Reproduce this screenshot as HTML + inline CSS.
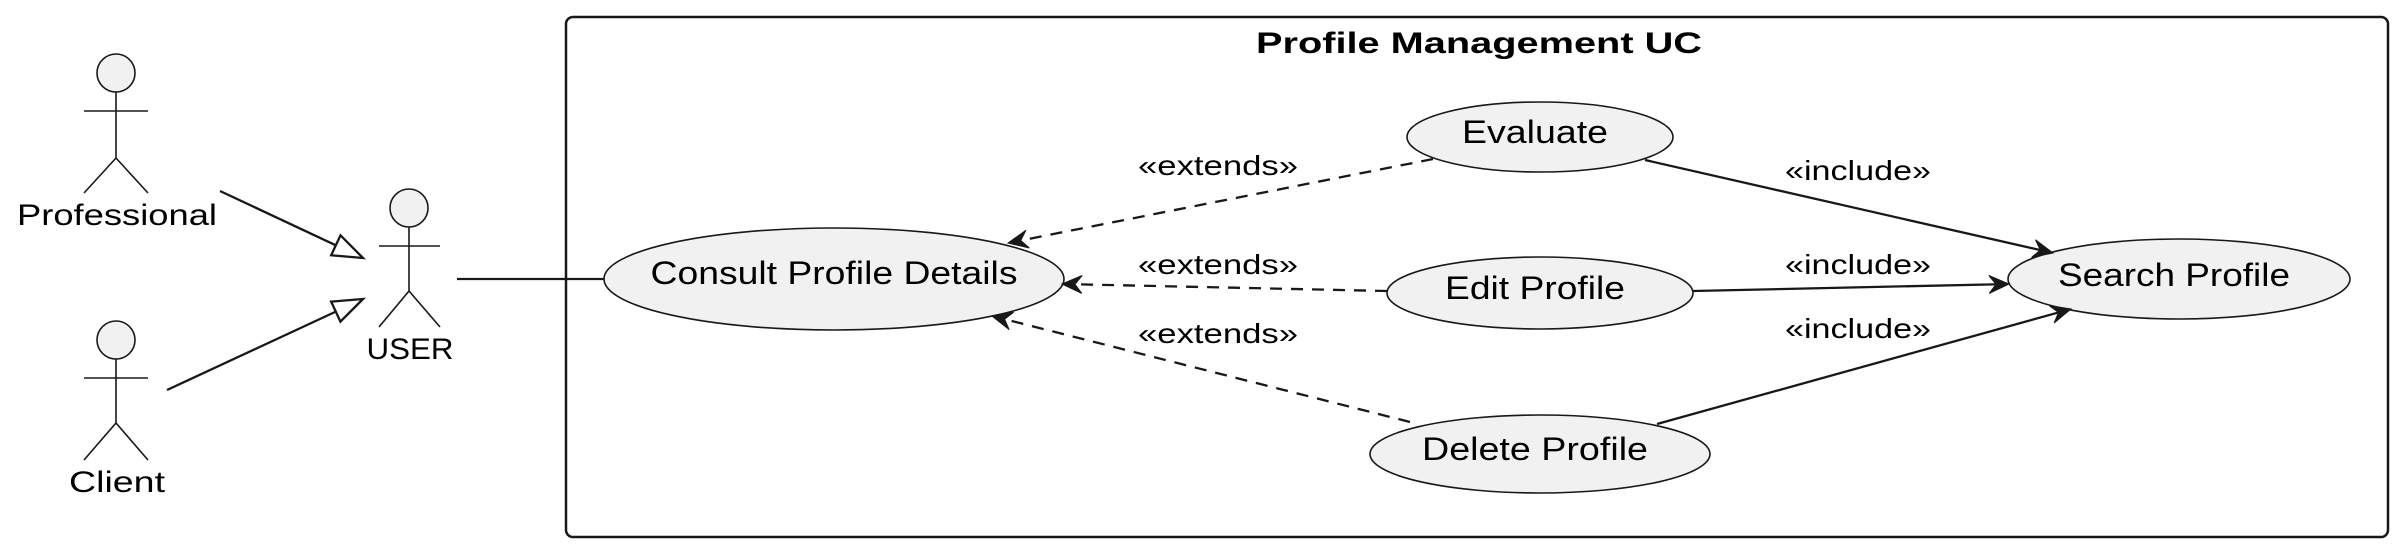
<!DOCTYPE html>
<html><head><meta charset="utf-8"><style>
html,body{margin:0;padding:0;background:#fff;}
svg{display:block;}
text{font-family:"Liberation Sans",sans-serif;fill:#000;}
</style></head><body>
<svg id="s" width="2400" height="550" viewBox="0 0 2400 550" xmlns="http://www.w3.org/2000/svg">
<rect x="566" y="17" width="1822" height="520" rx="7" fill="none" stroke="#181818" stroke-width="2.5"/>
<text x="1479" y="53" font-size="30" font-weight="bold" text-anchor="middle" textLength="446" lengthAdjust="spacingAndGlyphs">Profile Management UC</text>

<g fill="#f1f1f1" stroke="#181818" stroke-width="1.6">
<circle cx="116" cy="73" r="19"/><circle cx="409" cy="208" r="19"/><circle cx="116" cy="340" r="19"/>
</g>
<g stroke="#181818" stroke-width="1.6" fill="none">
<path d="M116 92V158M84 111H148M84 193L116 158L148 193"/>
<path d="M409 227V291M379 246H440M379 327L409 291L440 327"/>
<path d="M116 359V423M84 378H148M84 460L116 423L148 460"/>
</g>
<text x="117" y="225" font-size="30" text-anchor="middle" textLength="200" lengthAdjust="spacingAndGlyphs">Professional</text>
<text x="410" y="359" font-size="30" text-anchor="middle" textLength="87" lengthAdjust="spacingAndGlyphs">USER</text>
<text x="117" y="492" font-size="30" text-anchor="middle" textLength="96" lengthAdjust="spacingAndGlyphs">Client</text>

<g fill="#f1f1f1" stroke="#181818" stroke-width="1.6">
<ellipse cx="834" cy="279" rx="230" ry="51"/>
<ellipse cx="1540" cy="137" rx="133" ry="35"/>
<ellipse cx="1540" cy="293" rx="153" ry="36"/>
<ellipse cx="1540" cy="454" rx="170" ry="39"/>
<ellipse cx="2179" cy="279" rx="171" ry="40"/>
</g>
<g font-size="32" text-anchor="middle">
<text x="834" y="284" textLength="367" lengthAdjust="spacingAndGlyphs">Consult Profile Details</text>
<text x="1535" y="143" textLength="146" lengthAdjust="spacingAndGlyphs">Evaluate</text>
<text x="1535" y="299" textLength="180" lengthAdjust="spacingAndGlyphs">Edit Profile</text>
<text x="1535" y="460" textLength="226" lengthAdjust="spacingAndGlyphs">Delete Profile</text>
<text x="2174" y="286" textLength="232" lengthAdjust="spacingAndGlyphs">Search Profile</text>
</g>
<g font-size="28" text-anchor="middle">
<text x="1218" y="175" textLength="160" lengthAdjust="spacingAndGlyphs">«extends»</text>
<text x="1218" y="274" textLength="160" lengthAdjust="spacingAndGlyphs">«extends»</text>
<text x="1218" y="343" textLength="160" lengthAdjust="spacingAndGlyphs">«extends»</text>
<text x="1858" y="180" textLength="146" lengthAdjust="spacingAndGlyphs">«include»</text>
<text x="1858" y="274" textLength="146" lengthAdjust="spacingAndGlyphs">«include»</text>
<text x="1858" y="338" textLength="146" lengthAdjust="spacingAndGlyphs">«include»</text>
</g>
<line x1="457" y1="279" x2="604" y2="279" stroke="#181818" stroke-width="2.3"/>
<g id="arr"></g>
</svg>
<script>
var g=document.getElementById('arr'),NS='http://www.w3.org/2000/svg';
function el(t,a){var e=document.createElementNS(NS,t);for(var k in a)e.setAttribute(k,a[k]);g.appendChild(e);}
function arrow(x1,y1,x2,y2,dash,hollow){
 var dx=x2-x1,dy=y2-y1,L=Math.hypot(dx,dy),ux=dx/L,uy=dy/L,px=-uy,py=ux;
 if(hollow){
  var bl=30,hw=11,bx=x2-ux*bl,by=y2-uy*bl;
  el('line',{x1:x1,y1:y1,x2:bx,y2:by,stroke:'#181818','stroke-width':2.3});
  el('polygon',{points:[x2,y2,bx+px*hw,by+py*hw,bx-px*hw,by-py*hw].join(' '),fill:'#fff',stroke:'#181818','stroke-width':2.3});
 } else {
  var a={x1:x1,y1:y1,x2:x2-ux*4,y2:y2-uy*4,stroke:'#181818','stroke-width':2.3};
  if(dash)a['stroke-dasharray']='12,9';
  el('line',a);
  var bl=20,hw=9,bx=x2-ux*bl,by=y2-uy*bl,nx=x2-ux*13,ny=y2-uy*13;
  el('polygon',{points:[x2,y2,bx+px*hw,by+py*hw,nx,ny,bx-px*hw,by-py*hw].join(' '),fill:'#181818',stroke:'#181818','stroke-width':1});
 }
}
arrow(220,191,363,258,false,true);
arrow(167,390,363,299,false,true);
arrow(1433,159,1008,243,true);
arrow(1387,291,1062,284,true);
arrow(1410,422,992,316,true);
arrow(1645,160,2053,253,false);
arrow(1693,291,2009,284,false);
arrow(1657,424,2071,309,false);
</script>
</body></html>
